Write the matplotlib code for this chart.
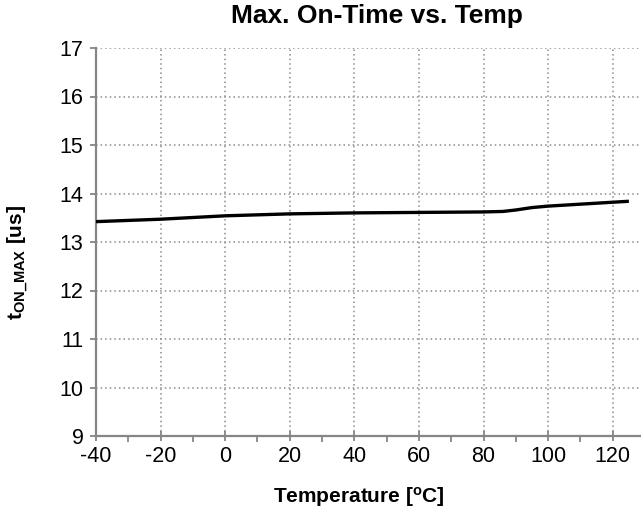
import numpy as np
import matplotlib
matplotlib.use("Agg")
import matplotlib.pyplot as plt
from matplotlib.ticker import MultipleLocator

plt.rcParams['font.family'] = ['Liberation Sans', 'DejaVu Sans']
plt.rcParams['mathtext.fontset'] = 'custom'
plt.rcParams['mathtext.rm'] = 'Liberation Sans'
plt.rcParams['mathtext.it'] = 'Liberation Sans'
plt.rcParams['mathtext.bf'] = 'Liberation Sans:bold'
plt.rcParams['axes.unicode_minus'] = False

# data
temp = [-40, -20, 0, 20, 40, 60, 80, 86, 90, 95, 100, 110, 125]
t_on = [13.42, 13.47, 13.54, 13.58, 13.60, 13.61, 13.62, 13.63, 13.66, 13.71, 13.74, 13.78, 13.84]

x_ticks = [-40, -20, 0, 20, 40, 60, 80, 100, 120]
y_ticks = [9, 10, 11, 12, 13, 14, 15, 16, 17]

gray = '#868686'

fig = plt.figure(figsize=(6.41, 5.13), dpi=100)
ax = fig.add_axes([96/641, 1-436/513, (645-96)/641, (436-48)/513])

ax.plot(temp, t_on, color='black', lw=2.4, solid_capstyle='butt', zorder=3)

ax.set_xlim(-40, 130)
ax.set_ylim(9, 17)
ax.set_xticks(x_ticks)
ax.set_yticks(y_ticks)
ax.xaxis.set_minor_locator(MultipleLocator(10))
ax.tick_params(axis='x', which='major', direction='inout', length=7, width=1.3, color=gray, labelsize=15.5, pad=4)
ax.tick_params(axis='x', which='minor', direction='out', length=4, width=1.3, color=gray)
ax.tick_params(axis='y', which='major', direction='out', length=4, width=1.3, color=gray, labelsize=15.5, pad=5)

ax.grid(True, which='major', linestyle=(0, (1, 2)), color='#8c8c8c', lw=1.1)
for s in ['top', 'right']:
    ax.spines[s].set_visible(False)
for s in ['left', 'bottom']:
    ax.spines[s].set_color(gray)
    ax.spines[s].set_linewidth(1.6)
ax.set_axisbelow(True)

fig.text(377/641, 1-16/513, 'Max. On-Time vs. Temp', ha='center', va='center',
         fontsize=19, fontweight='bold')
fig.text(359/641, 1-497/513, r'Temperature [$^{\mathbf{o}}$C]', ha='center', va='center',
         fontsize=15, fontweight='bold')
fig.text(18/641, 1-262/513, r'$\mathbf{t_{ON\_MAX}}$ [us]', ha='center', va='center',
         rotation=90, fontsize=15, fontweight='bold')

fig.savefig('out.png', dpi=100)
